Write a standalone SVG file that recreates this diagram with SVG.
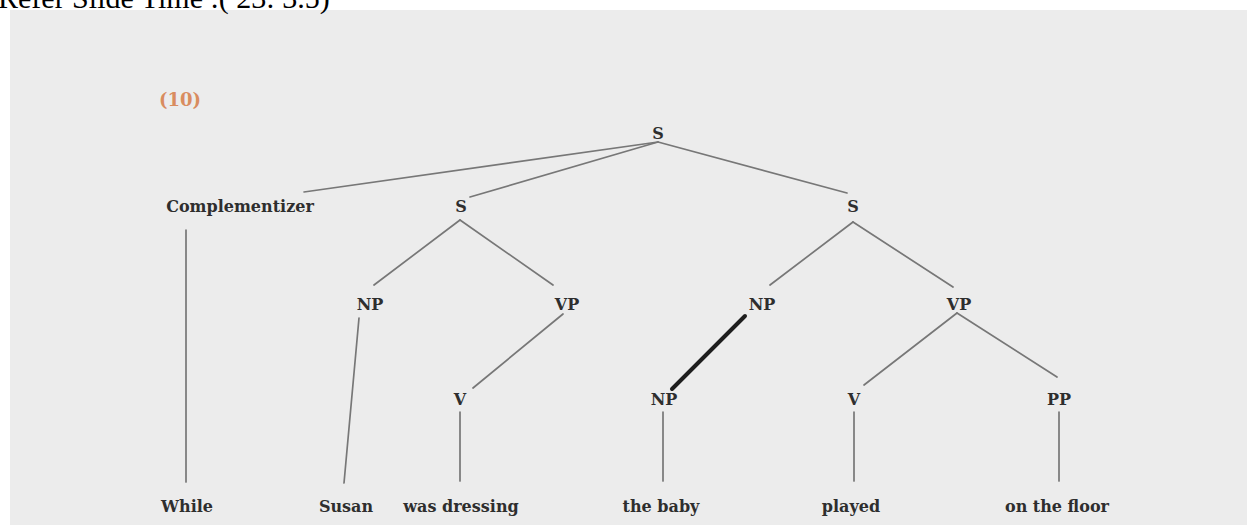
<svg xmlns="http://www.w3.org/2000/svg" width="1247" height="525" viewBox="0 0 1247 525">
<style>
.bg{fill:#ececec}
.lbl{font-family:"DejaVu Serif","Liberation Serif",serif;font-weight:bold;font-size:16px;fill:#2e2e2e;text-anchor:middle}
.ln{stroke:#777777;stroke-width:1.7;fill:none;stroke-linecap:round}
.thick{stroke:#1e1e1e;stroke-width:4;fill:none;stroke-linecap:round}
.hdr{font-family:"Liberation Serif",serif;font-size:30px;fill:#000}
</style>
<rect x="0" y="0" width="1247" height="525" fill="#ffffff"/>
<rect class="bg" x="10" y="10" width="1237" height="515"/>
<text class="hdr" x="-2" y="8">Refer Slide Time :( 23: 3.5)</text>
<text x="180" y="106" style="font-family:'DejaVu Serif','Liberation Serif',serif;font-weight:bold;font-size:18px;fill:#d98c5f;text-anchor:middle">(10)</text>
<g id="connectors">
<line class="ln" x1="658" y1="142" x2="304" y2="192"/>
<line class="ln" x1="658" y1="142" x2="470" y2="197"/>
<line class="ln" x1="658" y1="142" x2="847" y2="193"/>
<line class="ln" x1="460" y1="220" x2="374" y2="285"/>
<line class="ln" x1="460" y1="220" x2="553" y2="285"/>
<line class="ln" x1="853" y1="222" x2="770" y2="285"/>
<line class="ln" x1="853" y1="222" x2="953" y2="287"/>
<line class="ln" x1="186" y1="230" x2="186" y2="482"/>
<line class="ln" x1="359" y1="318" x2="344" y2="483"/>
<line class="ln" x1="563" y1="314" x2="473" y2="388"/>
<line class="thick" x1="745" y1="316" x2="672" y2="389"/>
<line class="ln" x1="957" y1="313" x2="864" y2="385"/>
<line class="ln" x1="957" y1="313" x2="1057" y2="377"/>
<line class="ln" x1="460" y1="412" x2="460" y2="481"/>
<line class="ln" x1="663" y1="412" x2="663" y2="481"/>
<line class="ln" x1="854" y1="412" x2="854" y2="481"/>
<line class="ln" x1="1059" y1="412" x2="1059" y2="481"/>
</g>
<g id="n-s-top"><text class="lbl" x="658" y="139">S</text></g>
<g id="n-comp"><text class="lbl" x="240" y="212">Complementizer</text></g>
<g id="n-s-left"><text class="lbl" x="461" y="212">S</text></g>
<g id="n-s-right"><text class="lbl" x="853" y="212">S</text></g>
<g id="n-np1"><text class="lbl" x="370" y="310">NP</text></g>
<g id="n-vp1"><text class="lbl" x="567" y="310">VP</text></g>
<g id="n-np2"><text class="lbl" x="762" y="310">NP</text></g>
<g id="n-vp2"><text class="lbl" x="959" y="310">VP</text></g>
<g id="n-v1"><text class="lbl" x="460" y="405">V</text></g>
<g id="n-np3"><text class="lbl" x="664" y="405">NP</text></g>
<g id="n-v2"><text class="lbl" x="854" y="405">V</text></g>
<g id="n-pp"><text class="lbl" x="1059" y="405">PP</text></g>
<g id="w-while"><text class="lbl" x="187" y="512">While</text></g>
<g id="w-susan"><text class="lbl" x="346" y="512">Susan</text></g>
<g id="w-wasdressing"><text class="lbl" x="461" y="512">was dressing</text></g>
<g id="w-thebaby"><text class="lbl" x="661" y="512">the baby</text></g>
<g id="w-played"><text class="lbl" x="851" y="512">played</text></g>
<g id="w-onthefloor"><text class="lbl" x="1057" y="512">on the floor</text></g>
</svg>
